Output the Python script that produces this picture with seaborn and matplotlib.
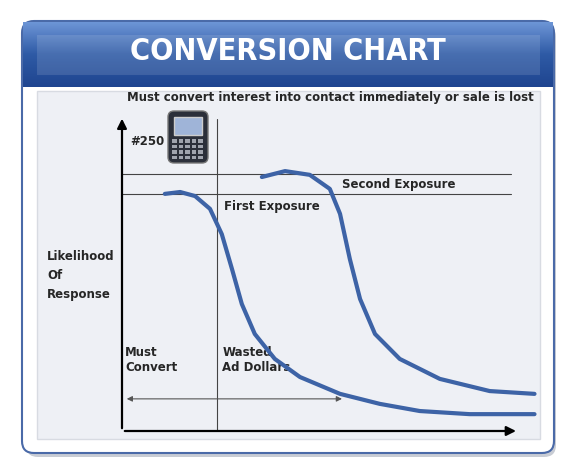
import numpy as np
import pandas as pd
import matplotlib
matplotlib.use("Agg")
import matplotlib.pyplot as plt
from matplotlib.patches import FancyBboxPatch, Rectangle
import seaborn as sns

# curve data (time units vs likelihood units)
first_t = [1.09, 1.48, 1.86, 2.24, 2.54, 2.80, 3.05, 3.38, 3.89, 4.53, 5.55, 6.56, 7.58, 8.85, 10.5]
first_l = [7.60, 7.66, 7.53, 7.12, 6.31, 5.19, 4.07, 3.11, 2.31, 1.73, 1.19, 0.87, 0.64, 0.54, 0.54]
second_t = [3.56, 4.15, 4.78, 5.29, 5.55, 5.80, 6.06, 6.44, 7.07, 8.09, 9.36, 10.5]
second_l = [8.14, 8.33, 8.21, 7.76, 6.96, 5.51, 4.23, 3.11, 2.31, 1.67, 1.28, 1.19]
first_level = 7.6
second_level = 8.24
decision_t = 2.42
wasted_end_t = 5.67

sns.set_style("white")
plt.rcParams['font.family'] = ['DejaVu Sans']
blue = "#3d63a6"

fig = plt.figure(figsize=(5.76, 4.77), dpi=100)

# decoration layer in pixel coords
bg = fig.add_axes([0, 0, 1, 1])
bg.set_xlim(0, 576)
bg.set_ylim(477, 0)
bg.axis("off")
bg.add_patch(FancyBboxPatch((26, 26), 530, 432, boxstyle="round,pad=0,rounding_size=12",
                            fc="#c8ccd4", ec="none"))
bg.add_patch(FancyBboxPatch((22, 22), 532, 432, boxstyle="round,pad=0,rounding_size=12",
                            fc="white", ec="#4a6aa8", lw=1.5))
# header gradient
grad = np.linspace(0, 1, 100).reshape(-1, 1)
cmap = matplotlib.colors.LinearSegmentedColormap.from_list("h", ["#6d95d6", "#2e5aa5", "#1f4590"])
bg.imshow(grad, extent=(23, 553, 88, 23), cmap=cmap, aspect="auto", zorder=1)
bg.add_patch(Rectangle((37, 36), 503, 40, fc="white", alpha=0.12, ec="none", zorder=1))
bg.add_patch(Rectangle((37, 92), 503, 348, fc="#eef0f5", ec="#d8dbe2", zorder=1))
bg.text(288, 52, "CONVERSION CHART", color="white", fontsize=22, fontweight="bold",
        fontstretch="condensed", ha="center", va="center", zorder=2)
bg.text(330, 97, "Must convert interest into contact immediately or sale is lost",
        fontsize=8.5, fontweight="bold", ha="center", va="center", zorder=2)
bg.text(47, 250, "Likelihood\nOf\nResponse", fontsize=8.5, fontweight="bold",
        va="top", linespacing=1.6, zorder=2)
bg.text(130, 142, "#250", fontsize=8.5, fontweight="bold", va="center", zorder=2)
# phone icon
bg.add_patch(FancyBboxPatch((168, 112), 40, 52, boxstyle="round,pad=0,rounding_size=6",
                            fc="#2b2f3a", ec="#777", lw=1, zorder=2))
bg.add_patch(Rectangle((174, 118), 28, 18, fc="#9fb4d8", ec="#ccc", zorder=3))
for r in range(4):
    for c in range(5):
        bg.add_patch(Rectangle((172 + c * 6.5, 140 + r * 5.5), 4.5, 3.5, fc="#a0a4ae", ec="none", zorder=3))

ax = fig.add_axes([122 / 576, 45 / 477, 418 / 576, 312 / 477])
ax.patch.set_alpha(0)
ax.set_xlim(0, 10.64)
ax.set_ylim(0, 10)
ax.axis("off")

df1 = pd.DataFrame({"t": first_t, "l": first_l})
df2 = pd.DataFrame({"t": second_t, "l": second_l})
for d in (df1, df2):
    sns.lineplot(data=d, x="t", y="l", ax=ax, color=blue, lw=3, sort=False,
                 estimator=None, solid_capstyle="round", solid_joinstyle="round", zorder=4)

ax.plot([0, 9.9], [first_level, first_level], color="#444", lw=0.8)
ax.plot([0, 9.9], [second_level, second_level], color="#444", lw=0.8)
ax.plot([decision_t, decision_t], [0, 10], color="#444", lw=0.8)

ax.annotate("", xy=(10.1, 0), xytext=(0, 0), annotation_clip=False,
            arrowprops=dict(arrowstyle="-|>", color="black", lw=1.6, mutation_scale=14, clip_on=False))
ax.annotate("", xy=(0, 10.1), xytext=(0, 0), annotation_clip=False,
            arrowprops=dict(arrowstyle="-|>", color="black", lw=1.6, mutation_scale=14, clip_on=False))
ax.annotate("", xy=(wasted_end_t, 1.03), xytext=(0.05, 1.03),
            arrowprops=dict(arrowstyle="<|-|>", color="#555", lw=0.8, mutation_scale=8))

ax.text(5.6, second_level - 0.3, "Second Exposure", fontsize=8.5, fontweight="bold", va="center")
ax.text(2.6, first_level - 0.36, "First Exposure", fontsize=8.5, fontweight="bold", va="center")
ax.text(0.08, 2.3, "Must\nConvert", fontsize=8.5, fontweight="bold", va="center")
ax.text(2.55, 2.3, "Wasted\nAd Dollars", fontsize=8.5, fontweight="bold", va="center")

fig.savefig("out.png", dpi=100)
